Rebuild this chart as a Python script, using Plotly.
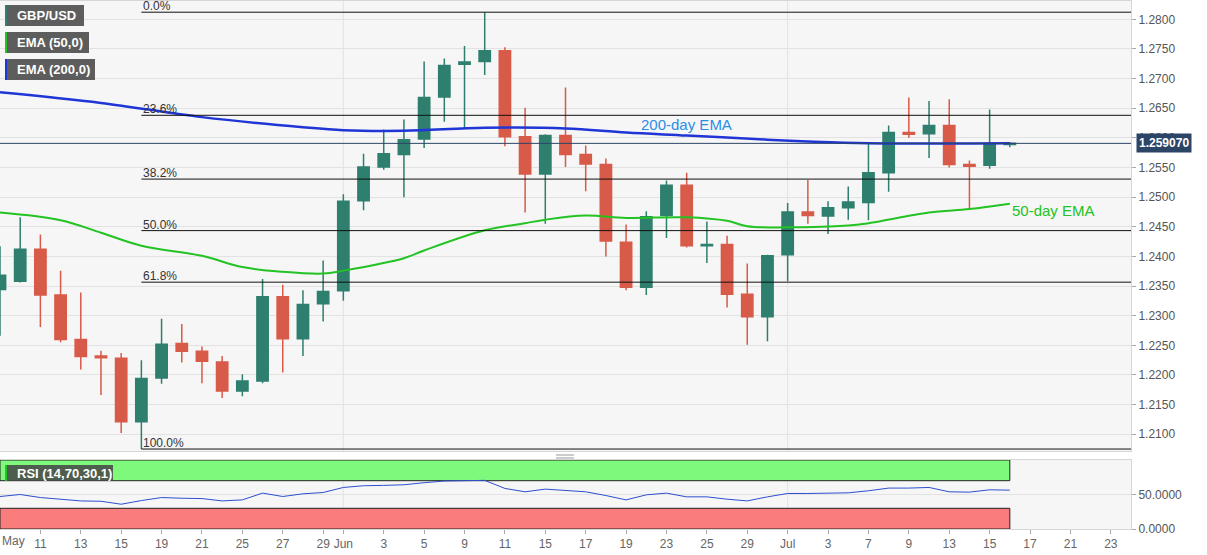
import pandas as pd
import plotly.graph_objects as go
from plotly.subplots import make_subplots

# trading days on the axis; candles stop on 16 Jul, the axis runs to 24 Jul
days = [d.strftime("%Y-%m-%d") for d in pd.bdate_range("2020-05-07", "2020-07-24")]
n_candles = 51
dates = days[:n_candles]

opens = [1.2344, 1.2358, 1.2412, 1.2335, 1.2260, 1.2232, 1.2228, 1.2121, 1.2195, 1.2253,
         1.2240, 1.2222, 1.2173, 1.2190, 1.2332, 1.2261, 1.2320,
         1.2342, 1.2494, 1.2551, 1.2572, 1.2598, 1.2669, 1.2724, 1.2729, 1.2747, 1.2602,
         1.2539, 1.2604, 1.2572, 1.2555, 1.2424, 1.2348, 1.2469, 1.2520, 1.2418, 1.2420,
         1.2336, 1.2298,
         1.2403, 1.2475, 1.2468, 1.2482, 1.2491, 1.2541, 1.2609, 1.2607, 1.2621, 1.2555,
         1.2554, 1.2589]
highs = [1.2417, 1.2466, 1.2437, 1.2376, 1.2339, 1.2241, 1.2237, 1.2225, 1.2295, 1.2286,
         1.2248, 1.2232, 1.2201, 1.2362, 1.2352, 1.2343, 1.2393,
         1.2505, 1.2573, 1.2614, 1.2631, 1.2729, 1.2734, 1.2755, 1.2812, 1.2753, 1.2651,
         1.2606, 1.2685, 1.2587, 1.2565, 1.2454, 1.2476, 1.2528, 1.2541, 1.2459, 1.2435,
         1.2388, 1.2403,
         1.2490, 1.2529, 1.2493, 1.2518, 1.2590, 1.2621, 1.2668, 1.2662, 1.2665, 1.2562,
         1.2648, 1.2593]
lows = [1.2266, 1.2356, 1.2281, 1.2255, 1.2209, 1.2166, 1.2102, 1.2075, 1.2185, 1.2221,
        1.2186, 1.2161, 1.2164, 1.2186, 1.2204, 1.2232, 1.2290,
        1.2325, 1.2478, 1.2546, 1.2500, 1.2583, 1.2627, 1.2616, 1.2706, 1.2586, 1.2474,
        1.2455, 1.2551, 1.2510, 1.2400, 1.2343, 1.2335, 1.2431, 1.2415, 1.2389, 1.2314,
        1.2251, 1.2257,
        1.2358, 1.2455, 1.2438, 1.2462, 1.2461, 1.2509, 1.2600, 1.2566, 1.2550, 1.2480,
        1.2548, 1.2584]
closes = [1.2368, 1.2412, 1.2335, 1.2260, 1.2231, 1.2229, 1.2121, 1.2194, 1.2252, 1.2240,
          1.2223, 1.2173, 1.2190, 1.2332, 1.2261, 1.2319, 1.2341,
          1.2493, 1.2551, 1.2573, 1.2597, 1.2668, 1.2722, 1.2728, 1.2747, 1.2602, 1.2539,
          1.2604, 1.2572, 1.2556, 1.2426, 1.2348, 1.2467, 1.2520, 1.2418, 1.2420, 1.2336,
          1.2298, 1.2401,
          1.2475, 1.2469, 1.2482, 1.2492, 1.2541, 1.2609, 1.2606, 1.2621, 1.2555, 1.2552,
          1.2590, 1.25907]

ema50_dates = ["2020-05-07", "2020-05-12", "2020-05-14", "2020-05-18", "2020-05-21",
               "2020-05-25", "2020-05-27", "2020-05-29", "2020-06-01", "2020-06-04",
               "2020-06-05", "2020-06-10", "2020-06-12", "2020-06-15", "2020-06-17",
               "2020-06-19", "2020-06-24", "2020-06-26", "2020-06-29", "2020-07-01",
               "2020-07-06", "2020-07-07", "2020-07-10", "2020-07-14", "2020-07-16"]
ema50 = [1.2474, 1.2461, 1.2440, 1.2418, 1.2401, 1.2382, 1.2374, 1.2371, 1.2376, 1.2397,
         1.2410, 1.2444, 1.2456, 1.2462, 1.2469, 1.2465, 1.2466, 1.2460, 1.2451, 1.2449,
         1.2452, 1.2456, 1.2474, 1.2480, 1.2489]

ema200_dates = ["2020-05-07", "2020-05-14", "2020-05-21", "2020-05-28", "2020-06-01",
                "2020-06-04", "2020-06-10", "2020-06-16", "2020-06-19", "2020-06-24",
                "2020-06-30", "2020-07-02", "2020-07-07", "2020-07-16"]
ema200 = [1.2677, 1.2659, 1.2635, 1.2618, 1.2613, 1.2612, 1.2617, 1.2616, 1.2609, 1.2604,
          1.2597, 1.2594, 1.2591, 1.2591]

rsi = [47.1, 50.0, 45.6, 42.7, 40.7, 40.2, 35.9, 41.2, 45.6, 44.6, 44.1, 40.7, 42.2, 52.0,
       47.1, 51.0, 52.9,
       60.2, 62.7, 63.2, 64.1, 67.1, 69.5, 70.0, 70.5, 58.8, 53.9, 57.8, 55.4, 53.9, 48.5,
       42.2, 49.5, 52.0, 46.6, 46.6, 43.2, 40.7, 46.6,
       51.5, 51.5, 52.0, 52.4, 55.4, 59.3, 59.3, 60.2, 53.9, 53.4, 56.8, 56.3]

fib_high, fib_low = 1.2812, 1.2075
fib_start = "2020-05-18"
fib_ratios = [0.0, 0.236, 0.382, 0.5, 0.618, 1.0]
fib_labels = ["0.0%", "23.6%", "38.2%", "50.0%", "61.8%", "100.0%"]

last_price = 1.259070

price_ticks = [1.2100, 1.2150, 1.2200, 1.2250, 1.2300, 1.2350, 1.2400, 1.2450, 1.2500,
               1.2550, 1.2600, 1.2650, 1.2700, 1.2750, 1.2800]
tick_dates = ["2020-05-11", "2020-05-13", "2020-05-15", "2020-05-19", "2020-05-21",
              "2020-05-25", "2020-05-27", "2020-05-29", "2020-06-01", "2020-06-03",
              "2020-06-05", "2020-06-09", "2020-06-11", "2020-06-15", "2020-06-17",
              "2020-06-19", "2020-06-23", "2020-06-25", "2020-06-29", "2020-07-01",
              "2020-07-03", "2020-07-07", "2020-07-09", "2020-07-13", "2020-07-15",
              "2020-07-17", "2020-07-21", "2020-07-23"]
tick_labels = ["11", "13", "15", "19", "21", "25", "27", "29", "Jun", "3", "5", "9", "11",
               "15", "17", "19", "23", "25", "29", "Jul", "3", "7", "9", "13", "15", "17",
               "21", "23"]
month_starts = ["2020-06-01", "2020-07-01"]

GREEN = "#2e7f6e"
RED = "#d85a48"
FONT = "Liberation Sans, Arial, sans-serif"

W, H = 1207, 555
ML, MR, MT, MB = 0, 76, 1, 26
PW, PH = W - ML - MR, H - MT - MB


def fx(px):
    return (px - ML) / PW


def fy(py):
    return (H - MB - py) / PH


x_end = len(days) - 1

fig = make_subplots(rows=2, cols=1, shared_xaxes=True)

fig.add_trace(go.Candlestick(
    x=dates, open=opens, high=highs, low=lows, close=closes,
    increasing=dict(line=dict(color=GREEN, width=1.5), fillcolor=GREEN),
    decreasing=dict(line=dict(color=RED, width=1.5), fillcolor=RED),
    whiskerwidth=0, showlegend=False, hoverinfo="skip"), row=1, col=1)

fig.add_trace(go.Scatter(x=ema50_dates, y=ema50, mode="lines", line_shape="spline",
                         line=dict(color="#22c322", width=2), showlegend=False),
              row=1, col=1)
fig.add_trace(go.Scatter(x=ema200_dates, y=ema200, mode="lines", line_shape="spline",
                         line=dict(color="#1f35d6", width=2.5), showlegend=False),
              row=1, col=1)

fig.add_trace(go.Scatter(x=dates, y=rsi, mode="lines",
                         line=dict(color="#2d4fd0", width=1), showlegend=False),
              row=2, col=1)

shapes = []
annotations = []

# month separators
for m in month_starts:
    xi = days.index(m)
    for yr in ("y domain", "y2 domain"):
        shapes.append(dict(type="line", xref="x", yref=yr, x0=xi, x1=xi, y0=0, y1=1,
                           line=dict(color="#e2e2e2", width=1), layer="below"))

# fibonacci retracement
fx0 = days.index(fib_start)
for r, lab in zip(fib_ratios, fib_labels):
    lvl = fib_high - (fib_high - fib_low) * r
    shapes.append(dict(type="line", xref="x", yref="y", x0=fx0, x1=x_end, y0=lvl, y1=lvl,
                       line=dict(color="#111111", width=1)))
    annotations.append(dict(x=fx0, y=lvl, xref="x", yref="y", text=lab, showarrow=False,
                            xanchor="left", yanchor="bottom", yshift=-3,
                            font=dict(family=FONT, size=12, color="#333333")))

# last price line and tag
shapes.append(dict(type="line", xref="paper", yref="y", x0=0, x1=1, y0=last_price,
                   y1=last_price, line=dict(color="#2c4566", width=1)))
annotations.append(dict(x=1, y=last_price, xref="paper", yref="y",
                        text="<b>%.6f</b>" % last_price, showarrow=False,
                        xanchor="left", yanchor="middle", xshift=5,
                        bgcolor="#2c4566", borderpad=2,
                        font=dict(family=FONT, size=12, color="white")))

# EMA captions
annotations.append(dict(x="2020-06-24", y=1.2623, xref="x", yref="y", text="200-day EMA",
                        showarrow=False, xanchor="center", yanchor="middle",
                        font=dict(family=FONT, size=15, color="#2a8ee6")))
annotations.append(dict(x=n_candles - 1, y=1.2478, xref="x", yref="y", text="50-day EMA",
                        showarrow=False, xanchor="left", yanchor="middle",
                        font=dict(family=FONT, size=15, color="#22c322")))

# RSI bands
last_i = n_candles - 1
shapes.append(dict(type="rect", xref="x2", yref="y2", x0=0, x1=last_i, y0=70, y1=100,
                   fillcolor="#7ff97c", line=dict(color="#222222", width=1), layer="below"))
shapes.append(dict(type="rect", xref="x2", yref="y2", x0=0, x1=last_i, y0=0, y1=30,
                   fillcolor="#fb7c7c", line=dict(color="#222222", width=1), layer="below"))

# legend tags
tags = [("GBP/USD", 5, 84, 5, 26, GREEN),
        ("EMA (50,0)", 5, 89, 32, 53, "#22c322"),
        ("EMA (200,0)", 5, 95, 59, 80, "#1f35d6"),
        ("RSI (14,70,30,1)", 5, 113, 465, 481, "#22c322")]
for txt, x0, x1, y0, y1, col in tags:
    shapes.append(dict(type="rect", xref="paper", yref="paper", x0=fx(x0), x1=fx(x1),
                       y0=fy(y1), y1=fy(y0), fillcolor="rgba(72,72,72,0.88)",
                       line=dict(width=0)))
    shapes.append(dict(type="rect", xref="paper", yref="paper", x0=fx(x0), x1=fx(x0 + 2),
                       y0=fy(y1), y1=fy(y0), fillcolor=col, line=dict(width=0)))
    annotations.append(dict(x=fx(x0 + 10), y=fy((y0 + y1) / 2), xref="paper", yref="paper",
                            text="<b>%s</b>" % txt, showarrow=False, xanchor="left",
                            yanchor="middle",
                            font=dict(family=FONT, size=13, color="white")))

# "May" sits at the left edge of the date axis
annotations.append(dict(x=0, y=fy(541), xref="paper", yref="paper", text="May",
                        showarrow=False, xanchor="left", yanchor="middle",
                        font=dict(family=FONT, size=12, color="#666666")))

# panel resize handle
for py in (455, 458):
    shapes.append(dict(type="line", xref="paper", yref="paper", x0=fx(556), x1=fx(574),
                       y0=fy(py), y1=fy(py), line=dict(color="#999999", width=1)))

fig.update_layout(
    width=W, height=H,
    margin=dict(l=ML, r=MR, t=MT, b=MB),
    paper_bgcolor="white",
    plot_bgcolor="#f6f6f6",
    showlegend=False,
    boxgap=0.2,
    shapes=shapes,
    annotations=annotations,
    font=dict(family=FONT, size=12, color="#555555"),
)

fig.update_xaxes(type="category", categoryorder="array", categoryarray=days,
                 range=[0, x_end], showgrid=False, zeroline=False,
                 showline=True, linecolor="#d6d6d6", mirror=True)
fig.update_xaxes(rangeslider_visible=False, showticklabels=False, ticks="", row=1, col=1)
fig.update_xaxes(tickmode="array", tickvals=tick_dates, ticktext=tick_labels,
                 ticks="outside", ticklen=4, tickcolor="#aaaaaa",
                 tickfont=dict(family=FONT, size=12, color="#666666"), row=2, col=1)

fig.update_yaxes(side="right", domain=[fy(451), 1], range=[1.20717, 1.28309],
                 tickmode="array", tickvals=price_ticks, tickformat=".4f",
                 ticks="outside", ticklen=4, tickcolor="#aaaaaa",
                 gridcolor="#e2e2e2", zeroline=False, showline=True, linecolor="#d6d6d6",
                 mirror=True, tickfont=dict(family=FONT, size=12, color="#555555"),
                 row=1, col=1)
fig.update_yaxes(side="right", domain=[0, fy(460)], range=[0, 100],
                 tickmode="array", tickvals=[0, 50], ticktext=["0.0000", "50.0000"],
                 ticks="outside", ticklen=4, tickcolor="#aaaaaa",
                 gridcolor="#e2e2e2", zeroline=False, showline=True, linecolor="#d6d6d6",
                 mirror=True, tickfont=dict(family=FONT, size=12, color="#555555"),
                 row=2, col=1)

# the page's default body margin would push the chart off its 1207x555 frame
fig.write_html("out.html", config={"displayModeBar": False},
               post_script="document.body.style.margin='0';"
                           "document.body.style.overflow='hidden';")
